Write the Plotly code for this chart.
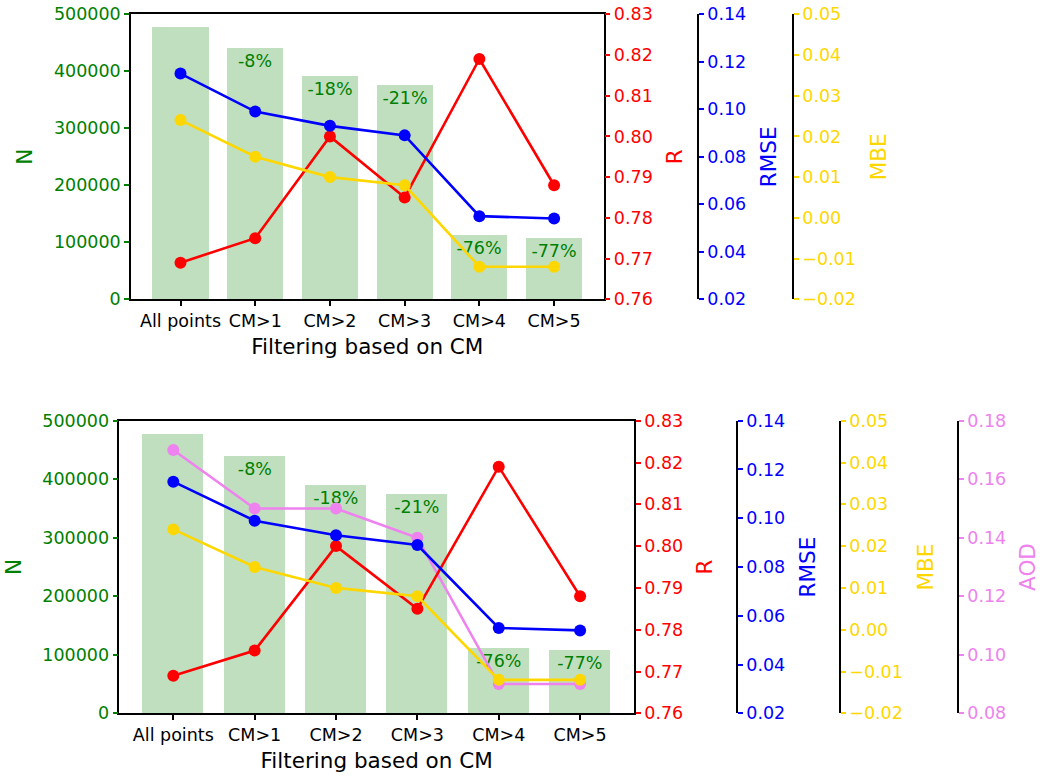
import plotly.graph_objects as go

categories = ["All points", "CM>1", "CM>2", "CM>3", "CM>4", "CM>5"]
n_points = [478000, 440000, 391000, 375000, 112000, 108000]
pct_labels = ["", "-8%", "-18%", "-21%", "-76%", "-77%"]
r_vals = [0.769, 0.775, 0.800, 0.785, 0.819, 0.788]
rmse_vals = [0.115, 0.099, 0.093, 0.089, 0.055, 0.054]
mbe_vals = [0.024, 0.015, 0.010, 0.008, -0.012, -0.012]
aod_vals = [0.170, 0.150, 0.150, 0.140, 0.090, 0.090]

FONT = "DejaVu Sans"
TICK = 17.5
TITLE = 21.5
W, H = 1040, 778

GREEN = "green"
RED = "red"
BLUE = "blue"
GOLD = "gold"
VIOLET = "violet"

fig = go.Figure()


def line_trace(y, color, xa, ya):
    return go.Scatter(x=categories, y=y, mode="lines+markers", xaxis=xa, yaxis=ya,
                      line=dict(color=color, width=2.6),
                      marker=dict(color=color, size=12), showlegend=False,
                      cliponaxis=False)


def bar_trace(xa, ya):
    return go.Bar(x=categories, y=n_points, xaxis=xa, yaxis=ya, width=0.75,
                  marker=dict(color="rgba(0,128,0,0.25)", line=dict(width=0)),
                  text=pct_labels, textposition="inside", insidetextanchor="end",
                  textangle=0, constraintext="none",
                  textfont=dict(color=GREEN, size=TICK, family=FONT),
                  showlegend=False)


# top panel
fig.add_trace(bar_trace("x", "y"))
fig.add_trace(line_trace(r_vals, RED, "x", "y2"))
fig.add_trace(line_trace(rmse_vals, BLUE, "x", "y3"))
fig.add_trace(line_trace(mbe_vals, GOLD, "x", "y4"))

# bottom panel
fig.add_trace(bar_trace("x2", "y5"))
fig.add_trace(line_trace(aod_vals, VIOLET, "x2", "y6"))
fig.add_trace(line_trace(r_vals, RED, "x2", "y7"))
fig.add_trace(line_trace(rmse_vals, BLUE, "x2", "y8"))
fig.add_trace(line_trace(mbe_vals, GOLD, "x2", "y9"))

top_x = [131.0 / W, 603.6 / W]
top_y = [1 - 299.3 / H, 1 - 14.2 / H]
bot_x = [119.4 / W, 634.0 / W]
bot_y = [1 - 713.3 / H, 1 - 420.7 / H]


def xaxis(domain, anchor):
    return dict(domain=domain, anchor=anchor, type="category",
                range=[-0.6625, 5.6625], showgrid=False, zeroline=False,
                showline=True, linecolor="black", linewidth=1.5, mirror=True,
                ticks="outside", ticklen=5, tickwidth=1.5, tickcolor="black",
                tickfont=dict(size=TICK, color="black", family=FONT),
                title=dict(text="Filtering based on CM",
                           font=dict(size=TITLE, color="black", family=FONT),
                           standoff=9),
                automargin=False)


def yaxis(domain, color, title, rng, dtick, fmt, side="left", anchor=None,
          overlaying=None, position=None):
    d = dict(domain=domain, range=rng, dtick=dtick, tick0=rng[0], tickformat=fmt,
             showgrid=False, zeroline=False, showline=True, linecolor="black",
             linewidth=1.5, ticks="outside", ticklen=5, tickwidth=1.5,
             tickcolor=color, side=side,
             tickfont=dict(size=TICK, color=color, family=FONT),
             title=dict(text=title, font=dict(size=TITLE, color=color, family=FONT)),
             automargin=False)
    if overlaying:
        d["overlaying"] = overlaying
    if position is not None:
        d["anchor"] = "free"
        d["position"] = position
    elif anchor:
        d["anchor"] = anchor
    return d


fig.update_layout(
    width=W, height=H,
    margin=dict(l=0, r=0, t=0, b=0),
    paper_bgcolor="white", plot_bgcolor="rgba(0,0,0,0)",
    font=dict(family=FONT),
    bargap=0,
    xaxis=xaxis(top_x, "y"),
    xaxis2=xaxis(bot_x, "y5"),
    yaxis=yaxis(top_y, GREEN, "N", [0, 500000], 100000, "d", anchor="x"),
    yaxis2=yaxis(top_y, RED, "R", [0.76, 0.83], 0.01, ".2f", side="right",
                 anchor="x", overlaying="y"),
    yaxis3=yaxis(top_y, BLUE, "RMSE", [0.02, 0.14], 0.02, ".2f", side="right",
                 overlaying="y", position=698 / W),
    yaxis4=yaxis(top_y, GOLD, "MBE", [-0.02, 0.05], 0.01, ".2f", side="right",
                 overlaying="y", position=793 / W),
    yaxis5=yaxis(bot_y, GREEN, "N", [0, 500000], 100000, "d", anchor="x2"),
    yaxis6=yaxis(bot_y, VIOLET, "AOD", [0.08, 0.18], 0.02, ".2f", side="right",
                 overlaying="y5", position=958 / W),
    yaxis7=yaxis(bot_y, RED, "R", [0.76, 0.83], 0.01, ".2f", side="right",
                 anchor="x2", overlaying="y5"),
    yaxis8=yaxis(bot_y, BLUE, "RMSE", [0.02, 0.14], 0.02, ".2f", side="right",
                 overlaying="y5", position=737 / W),
    yaxis9=yaxis(bot_y, GOLD, "MBE", [-0.02, 0.05], 0.01, ".2f", side="right",
                 overlaying="y5", position=840 / W),
)

fig.write_html(
    "out.html",
    config={"displayModeBar": False},
    post_script="document.body.style.margin='0';document.body.style.overflow='hidden';",
)
